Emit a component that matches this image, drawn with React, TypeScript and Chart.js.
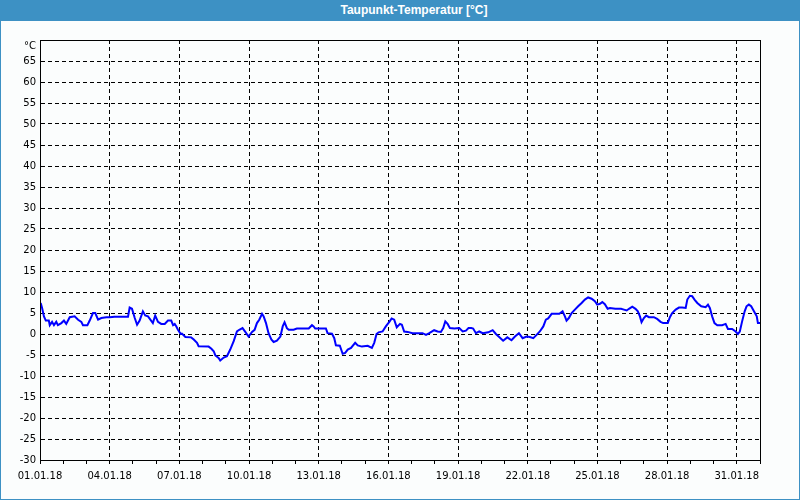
import React, { useEffect, useRef } from "react";
import { Chart, registerables } from "chart.js";

Chart.register(...registerables);

const chartTitle = "Taupunkt-Temperatur [°C]";
const unitLabel = "°C";

// x tick labels every 3 days (day offset from 01.01.18)
const dateLabels = [
  "01.01.18", "04.01.18", "07.01.18", "10.01.18", "13.01.18", "16.01.18",
  "19.01.18", "22.01.18", "25.01.18", "28.01.18", "31.01.18",
];

// time in days since 01.01.18 00:00
const days = [
  0.03, 0.09, 0.17, 0.25, 0.38, 0.42, 0.52, 0.60, 0.70, 0.77, 0.92, 1.03, 1.13, 1.28, 1.49, 1.64,
  1.78, 1.85, 2.04, 2.14, 2.28, 2.38, 2.50, 2.64, 2.86, 3.00, 3.21, 3.79, 3.86, 3.96, 4.08, 4.18,
  4.29, 4.43, 4.53, 4.65, 4.86, 4.96, 5.08, 5.22, 5.37, 5.51, 5.65, 5.73, 5.80, 5.87, 5.94, 6.06,
  6.11, 6.26, 6.51, 6.62, 6.76, 6.83, 7.26, 7.38, 7.48, 7.55, 7.69, 7.76, 7.91, 8.05, 8.19, 8.34,
  8.48, 8.58, 8.72, 8.84, 8.98, 9.13, 9.24, 9.34, 9.44, 9.56, 9.63, 9.73, 9.84, 9.96, 10.06, 10.20,
  10.35, 10.45, 10.53, 10.63, 10.71, 10.92, 11.06, 11.57, 11.71, 11.78, 11.85, 12.31, 12.38, 12.57,
  12.67, 12.74, 12.91, 13.03, 13.14, 13.25, 13.39, 13.57, 13.68, 13.86, 14.11, 14.29, 14.39, 14.49,
  14.58, 14.75, 14.89, 15.04, 15.14, 15.25, 15.36, 15.50, 15.58, 15.68, 15.83, 16.04, 16.47, 16.62,
  16.76, 16.97, 17.12, 17.26, 17.36, 17.45, 17.55, 17.65, 17.84, 18.05, 18.20, 18.34, 18.45, 18.57,
  18.65, 18.77, 18.91, 19.06, 19.30, 19.49, 19.63, 19.77, 19.94, 20.12, 20.30, 20.45, 20.62, 20.78,
  20.95, 21.09, 21.24, 21.38, 21.52, 21.67, 21.78, 21.88, 22.03, 22.21, 22.36, 22.50, 22.60, 22.67,
  22.77, 22.89, 23.03, 23.17, 23.32, 23.46, 23.60, 23.75, 23.89, 23.99, 24.11, 24.21, 24.32, 24.44,
  24.54, 24.77, 24.92, 25.02, 25.14, 25.26, 25.36, 25.50, 25.64, 25.74, 25.83, 25.90, 26.00, 26.10,
  26.22, 26.43, 26.57, 26.72, 26.83, 27.03, 27.12, 27.22, 27.37, 27.51, 27.65, 27.80, 27.87, 27.98,
  28.08, 28.18, 28.30, 28.47, 28.66, 28.76, 28.84, 28.94, 29.04, 29.16, 29.37, 29.52, 29.62, 29.80,
  29.95, 30.05, 30.13, 30.23, 30.34, 30.42, 30.52, 30.62, 30.74, 30.86, 30.91, 31.00,
];

// dew point in °C
const dewPoint = [
  7.4, 6.2, 4.2, 3.2, 3.2, 2.1, 2.9, 2.1, 2.9, 2.1, 2.6, 3.2, 2.4, 4.0, 4.2, 3.4,
  2.9, 2.1, 2.1, 3.2, 5.0, 5.0, 3.4, 3.8, 4.0, 4.0, 4.1, 4.1, 6.3, 6.0, 3.8, 2.2,
  3.2, 5.4, 4.4, 4.2, 2.6, 4.4, 2.9, 2.4, 2.4, 3.2, 3.2, 2.1, 2.4, 1.8, 1.0, 0.0,
  0.1, -0.7, -0.8, -1.3, -2.1, -2.9, -3.0, -3.5, -4.1, -5.1, -5.7, -6.3, -5.6, -5.3, -3.7, -1.7,
  0.6, 1.0, 1.4, 0.5, -0.6, 0.5, 1.0, 2.6, 3.4, 4.8, 4.2, 2.6, 0.2, -1.3, -1.9, -1.6,
  -0.6, 1.8, 2.8, 1.4, 1.0, 1.0, 1.3, 1.3, 2.1, 1.8, 1.3, 1.3, 0.2, 0.1,
  -1.0, -2.7, -2.8, -4.7, -4.5, -3.7, -3.3, -2.1, -2.7, -3.0, -2.8, -3.3, -2.1, 0.0,
  0.4, 0.6, 1.8, 2.9, 3.7, 3.4, 1.6, 2.4, 2.2, 0.6, 0.5, 0.2, 0.2, -0.2,
  0.2, 0.9, 0.6, 0.5, 1.4, 3.0, 2.4, 1.4, 1.3, 1.4, 0.6, 0.8, 1.4, 1.4,
  1.3, 0.2, 0.6, 0.2, 0.4, 0.9, 0.0, -0.7, -1.6, -0.8, -1.5, -0.6, 0.2, -1.0,
  -0.6, -0.7, -1.0, -0.2, 0.6, 1.8, 3.4, 3.7, 4.8, 4.8, 4.8, 5.4, 4.2, 3.2,
  3.8, 5.0, 5.8, 6.6, 7.4, 8.2, 8.7, 8.4, 7.8, 7.0, 7.2, 7.6, 7.1, 6.0,
  6.2, 6.0, 6.0, 6.0, 5.8, 5.6, 6.0, 6.5, 6.0, 5.4, 4.2, 2.8, 3.8, 4.4,
  4.0, 4.0, 3.6, 2.9, 2.6, 2.6, 4.0, 5.0, 5.8, 6.3, 6.3, 6.2, 8.2, 9.1,
  9.0, 8.2, 7.4, 6.6, 6.4, 7.0, 6.2, 4.2, 2.6, 2.1, 2.1, 2.4, 1.2, 1.2,
  0.6, 0.0, 0.6, 3.0, 5.4, 6.6, 7.0, 6.6, 5.4, 4.2, 2.6, 2.6,
];

const xMin = 0;
const xMax = 31;
const yMin = -30;
const yMax = 70;

const BLUE = "#3d91c4";
const TICK_FONT = { family: "'DejaVu Sans', sans-serif", size: 10 };

const framePlugin = {
  id: "frame",
  afterDraw(chart: any) {
    const { ctx, chartArea } = chart;
    ctx.save();
    ctx.strokeStyle = "#000";
    ctx.lineWidth = 1;
    ctx.setLineDash([]);
    ctx.strokeRect(
      Math.round(chartArea.left) + 0.5,
      Math.round(chartArea.top) + 0.5,
      Math.round(chartArea.right - chartArea.left),
      Math.round(chartArea.bottom - chartArea.top)
    );
    ctx.restore();
  },
};

export default function App() {
  const canvasRef = useRef<HTMLCanvasElement | null>(null);

  useEffect(() => {
    const canvas = canvasRef.current;
    if (!canvas) return;
    const points = days.map((d, i) => ({ x: d, y: dewPoint[i] }));
    const chart = new Chart(canvas, {
      type: "line",
      data: {
        datasets: [
          {
            data: points,
            borderColor: "#0000ff",
            borderWidth: 2,
            pointRadius: 0,
            tension: 0,
            fill: false,
          },
        ],
      },
      options: {
        animation: false,
        responsive: false,
        devicePixelRatio: 1,
        events: [],
        layout: { padding: { top: 40, right: 40, left: 0, bottom: 0 } },
        plugins: {
          legend: { display: false },
          title: { display: false },
          tooltip: { enabled: false },
        },
        scales: {
          x: {
            type: "linear",
            min: xMin,
            max: xMax,
            afterFit(scale: any) {
              scale.height = 40;
            },
            ticks: {
              stepSize: 1,
              autoSkip: false,
              maxRotation: 0,
              minRotation: 0,
              padding: 6,
              color: "#000",
              font: TICK_FONT,
              callback: (v: any) => {
                const n = Number(v);
                if (n % 3 === 0 && n / 3 < dateLabels.length) return dateLabels[n / 3];
                return "";
              },
            },
            grid: {
              drawTicks: true,
              tickLength: 4,
              tickColor: "#000",
              tickBorderDash: [],
              lineWidth: 1,
              color: (c: any) => {
                const v = c.tick ? c.tick.value : 0;
                return v % 3 === 0 && v > xMin && v < xMax ? "#000" : "rgba(0,0,0,0)";
              },
            },
            border: { display: true, color: "#000", width: 1, dash: [4, 3] },
          },
          y: {
            type: "linear",
            min: yMin,
            max: yMax,
            afterFit(scale: any) {
              scale.width = 40;
            },
            ticks: {
              stepSize: 5,
              autoSkip: false,
              padding: 4,
              color: "#000",
              font: TICK_FONT,
              callback: (v: any) => (Number(v) === yMax ? ["", unitLabel] : String(v)),
            },
            grid: {
              drawTicks: false,
              lineWidth: 1,
              color: (c: any) => {
                const v = c.tick ? c.tick.value : 0;
                return v > yMin && v < yMax ? "#000" : "rgba(0,0,0,0)";
              },
            },
            border: { display: true, color: "#000", width: 1, dash: [4, 3] },
          },
        },
      },
      plugins: [framePlugin],
    } as any);
    return () => chart.destroy();
  }, []);

  return (
    <div
      style={{
        position: "absolute",
        left: 0,
        top: 0,
        width: 800,
        height: 500,
        background: "#fbfdfd",
        overflow: "hidden",
      }}
    >
      <canvas
        ref={canvasRef}
        width={800}
        height={500}
        style={{ position: "absolute", left: 0, top: 0, width: 800, height: 500 }}
      />
      <div
        style={{
          position: "absolute",
          left: 0,
          top: 0,
          width: 800,
          height: 500,
          boxSizing: "border-box",
          border: `1px solid ${BLUE}`,
          pointerEvents: "none",
        }}
      />
      <div
        style={{
          position: "absolute",
          left: 0,
          top: 0,
          width: 800,
          height: 21,
          background: BLUE,
          color: "#fff",
          fontFamily: "'Liberation Sans', Arial, sans-serif",
          fontWeight: "bold",
          fontSize: 12,
          lineHeight: "21px",
          textAlign: "center",
          paddingLeft: 28,
          boxSizing: "border-box",
          whiteSpace: "nowrap",
        }}
      >
        {chartTitle}
      </div>
    </div>
  );
}
